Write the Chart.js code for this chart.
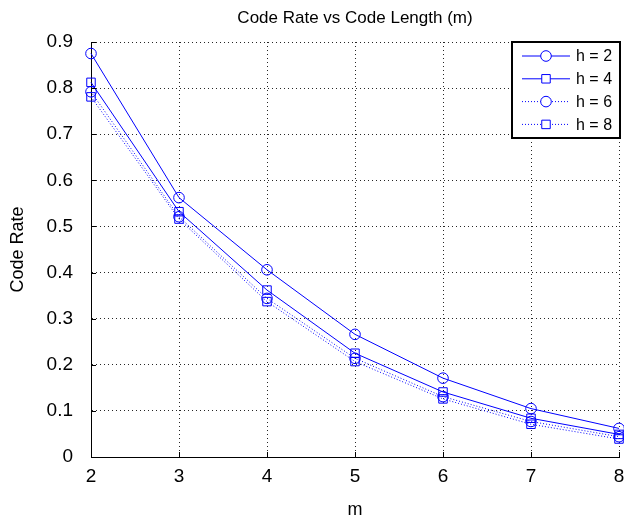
<!DOCTYPE html>
<html>
<head>
<meta charset="utf-8">
<script src="https://cdn.jsdelivr.net/npm/chart.js@4/dist/chart.umd.min.js"></script>
<style>
  html, body { margin: 0; padding: 0; background: #fff; overflow: hidden; }
  #chart { display: block; }
</style>
</head>
<body>
<canvas id="chart" width="626" height="519"></canvas>
<script>
"use strict";

// code length m on the x axis
const codeLength = [2, 3, 4, 5, 6, 7, 8];

// code rate per h
const rateH2 = [0.875, 0.5625, 0.406, 0.266, 0.171, 0.105, 0.062];
const rateH4 = [0.8125, 0.532, 0.362, 0.225, 0.141, 0.084, 0.049];
const rateH6 = [0.792, 0.521, 0.344, 0.214, 0.131, 0.077, 0.044];
const rateH8 = [0.781, 0.516, 0.337, 0.207, 0.126, 0.071, 0.039];

const seriesLabels = ["h = 2", "h = 4", "h = 6", "h = 8"];
const seriesValues = [rateH2, rateH4, rateH6, rateH8];

const FONT = "'Liberation Sans', Arial, Helvetica, sans-serif";
const BLUE = "#0000ff";

function makeDataset(i) {
  const dotted = i >= 2;
  const square = i % 2 === 1;
  return {
    label: seriesLabels[i],
    data: codeLength.map((m, k) => ({ x: m, y: seriesValues[i][k] })),
    borderColor: BLUE,
    borderWidth: 1,
    borderDash: dotted ? [1, 2] : [],
    tension: 0,
    fill: false,
    pointStyle: square ? "rect" : "circle",
    pointRadius: square ? 6 : 5.3,
    pointBorderWidth: 1,
    pointBorderColor: BLUE,
    pointBackgroundColor: "rgba(0,0,0,0)",
    clip: false
  };
}

// solid left/bottom axis lines under the data
const solidAxes = {
  id: "solidAxes",
  beforeDatasetsDraw(chart) {
    const { ctx, chartArea } = chart;
    ctx.save();
    ctx.strokeStyle = "#000";
    ctx.lineWidth = 1;
    ctx.setLineDash([]);
    ctx.beginPath();
    ctx.moveTo(chartArea.left + 0.5, chartArea.top);
    ctx.lineTo(chartArea.left + 0.5, chartArea.bottom + 0.5);
    ctx.lineTo(chartArea.right, chartArea.bottom + 0.5);
    ctx.stroke();
    ctx.restore();
  }
};

// inward tick marks like the original axes
const innerTicks = {
  id: "innerTicks",
  afterDatasetsDraw(chart) {
    const { ctx, chartArea, scales } = chart;
    ctx.save();
    ctx.strokeStyle = "#000";
    ctx.lineWidth = 1;
    ctx.beginPath();
    for (const t of scales.x.ticks) {
      const px = Math.round(scales.x.getPixelForValue(t.value)) + 0.5;
      ctx.moveTo(px, chartArea.bottom);
      ctx.lineTo(px, chartArea.bottom - 5);
    }
    for (const t of scales.y.ticks) {
      const py = Math.round(scales.y.getPixelForValue(t.value)) + 0.5;
      ctx.moveTo(chartArea.left, py);
      ctx.lineTo(chartArea.left + 5, py);
    }
    ctx.stroke();
    ctx.restore();
  }
};

// boxed legend with line sample and marker
const boxLegend = {
  id: "boxLegend",
  afterDraw(chart) {
    const { ctx, chartArea } = chart;
    const w = 108;
    const h = 96;
    const left = chartArea.right + 1 - w;
    const top = chartArea.top;
    ctx.save();
    ctx.fillStyle = "#fff";
    ctx.fillRect(left, top, w, h);
    ctx.strokeStyle = "#000";
    ctx.lineWidth = 2;
    ctx.strokeRect(left, top, w, h);

    chart.data.datasets.forEach((ds, i) => {
      const y = top + 14 + i * 22.8;
      ctx.strokeStyle = ds.borderColor;
      ctx.lineWidth = ds.borderWidth;
      ctx.setLineDash(ds.borderDash);
      ctx.beginPath();
      ctx.moveTo(left + 10, y);
      ctx.lineTo(left + 58, y);
      ctx.stroke();
      ctx.setLineDash([]);

      const cx = left + 34;
      ctx.fillStyle = "#fff";
      ctx.beginPath();
      if (ds.pointStyle === "rect") {
        const s = ds.pointRadius * Math.SQRT1_2;
        ctx.rect(cx - s, y - s, 2 * s, 2 * s);
      } else {
        ctx.arc(cx, y, ds.pointRadius, 0, Math.PI * 2);
      }
      ctx.fill();
      ctx.stroke();

      ctx.fillStyle = "#000";
      ctx.font = `16px ${FONT}`;
      ctx.textAlign = "left";
      ctx.textBaseline = "middle";
      ctx.fillText(ds.label, left + 64, y + 1);
    });
    ctx.restore();
  }
};

function buildChart() {
  const gridStyle = {
    color: "rgba(0,0,0,0.85)",
    lineWidth: 1,
    drawTicks: false
  };

  new Chart(document.getElementById("chart"), {
    type: "line",
    data: { datasets: seriesValues.map((_, i) => makeDataset(i)) },
    options: {
      responsive: false,
      animation: false,
      devicePixelRatio: 1,
      layout: { padding: { left: 0, right: 2, top: 0, bottom: 0 } },
      scales: {
        x: {
          type: "linear",
          min: 2,
          max: 8,
          ticks: { stepSize: 1, color: "#000", padding: 8, font: { family: FONT, size: 19 } },
          grid: gridStyle,
          border: { display: true, color: "#000", width: 1, dash: [1, 3] },
          title: {
            display: true,
            text: "m",
            color: "#000",
            font: { family: FONT, size: 18, lineHeight: 1 },
            padding: { top: 0, bottom: 0 }
          },
          afterFit(scale) {
            scale.height = 62;
            scale.paddingLeft = 0;
            scale.paddingRight = 0;
          }
        },
        y: {
          min: 0,
          max: 0.9,
          ticks: { stepSize: 0.1, color: "#000", padding: 18, font: { family: FONT, size: 19 } },
          grid: gridStyle,
          border: { display: true, color: "#000", width: 1, dash: [1, 3] },
          title: {
            display: true,
            text: "Code Rate",
            color: "#000",
            font: { family: FONT, size: 18, lineHeight: 1 },
            padding: { top: 9, bottom: 0 }
          },
          afterFit(scale) {
            scale.width = 91;
            scale.paddingTop = 0;
            scale.paddingBottom = 0;
          }
        }
      },
      plugins: {
        legend: { display: false },
        tooltip: { enabled: false },
        title: {
          display: true,
          text: "Code Rate vs Code Length (m)",
          color: "#000",
          fullSize: false,
          font: { family: FONT, size: 17, weight: "normal" },
          padding: { top: 8, bottom: 13.6 }
        }
      }
    },
    plugins: [solidAxes, innerTicks, boxLegend]
  });
}

buildChart();
</script>
</body>
</html>
